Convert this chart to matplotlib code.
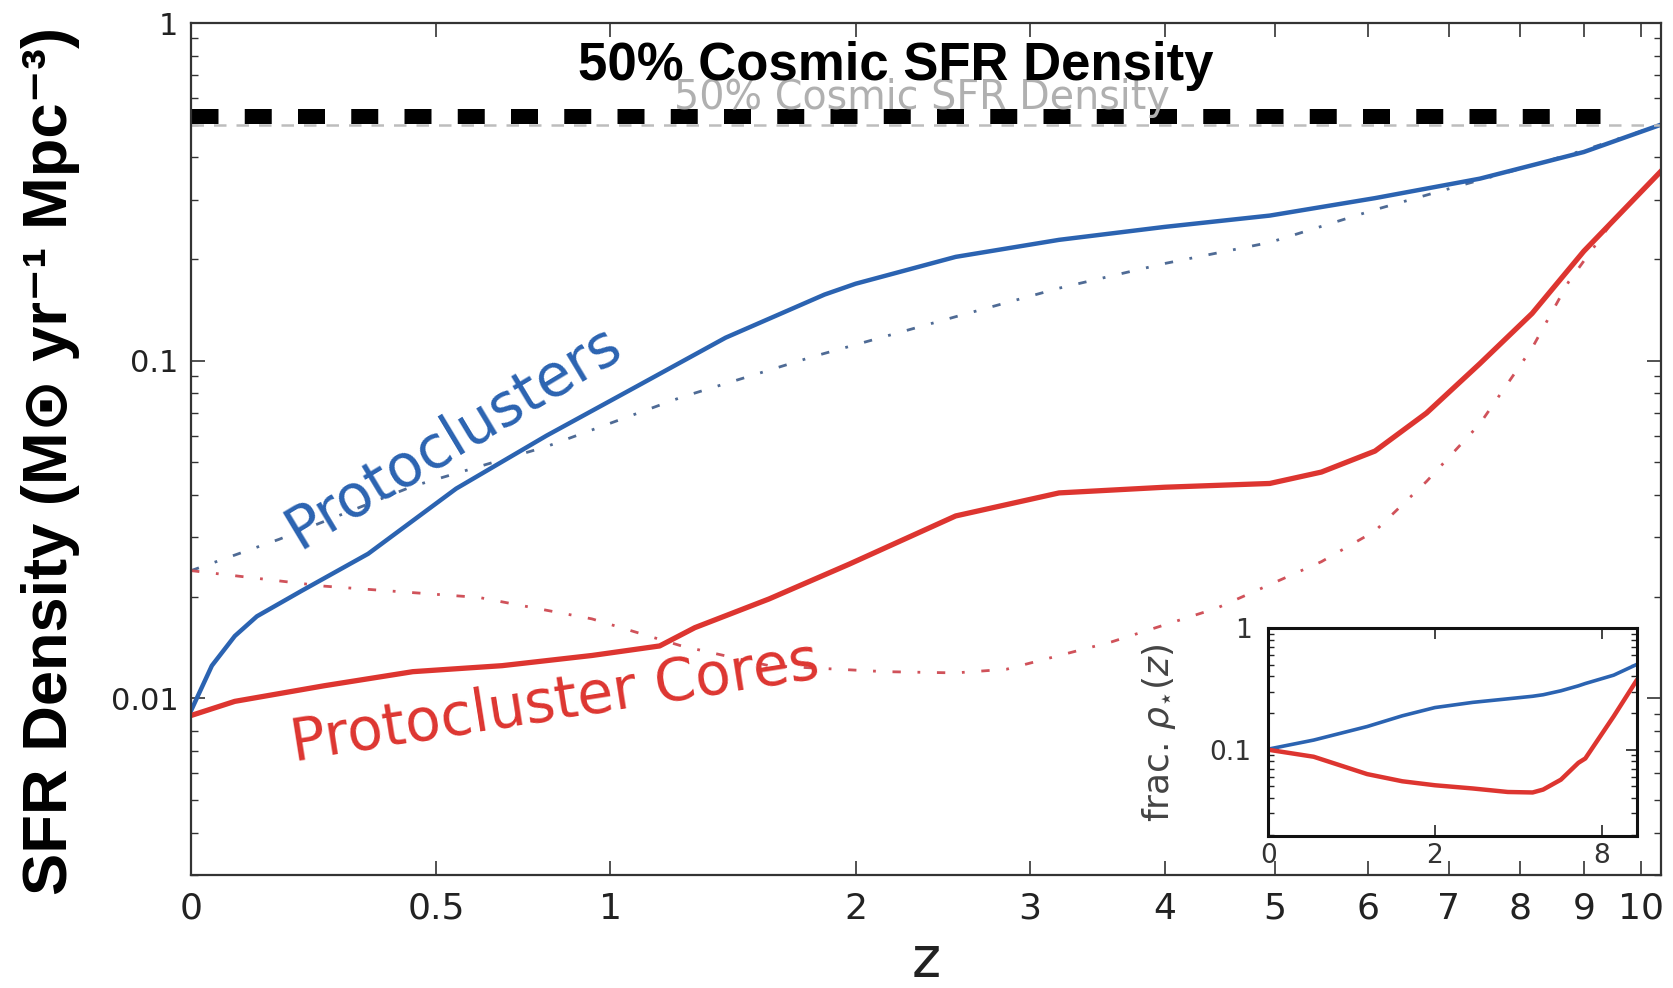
import numpy as np
import matplotlib.pyplot as plt
from matplotlib.ticker import FixedLocator, FixedFormatter, NullLocator, LogLocator, NullFormatter

# Protoclusters (total), solid
z_pc = [0, 0.035, 0.075, 0.115, 0.2, 0.34, 0.55, 0.8, 1.09, 1.42, 1.85, 2.0,
        2.54, 3.2, 4.0, 4.95, 6.08, 7.42, 9.0, 10.36]
sfr_pc = [0.0092, 0.0125, 0.0153, 0.0175, 0.0208, 0.0268, 0.0418, 0.06, 0.084,
          0.117, 0.157, 0.169, 0.203, 0.228, 0.249, 0.269, 0.303, 0.346, 0.415, 0.50]

# Protoclusters, dash-dot
z_pc_dd = [0, 0.157, 0.443, 0.8, 1.25, 1.8, 2.15, 2.54, 3.2, 4.0, 4.95, 6.08,
           7.0, 8.0, 9.0, 10.36]
sfr_pc_dd = [0.0239, 0.0296, 0.0425, 0.0557, 0.078, 0.103, 0.118, 0.135, 0.164,
             0.194, 0.224, 0.28, 0.323, 0.37, 0.42, 0.50]

# Protocluster cores, solid
z_core = [0, 0.075, 0.246, 0.443, 0.672, 0.94, 1.17, 1.30, 1.60, 1.97, 2.54,
          3.2, 4.0, 4.95, 5.48, 6.08, 6.71, 7.42, 8.18, 9.0, 10.36]
sfr_core = [0.0089, 0.0098, 0.0109, 0.012, 0.0125, 0.0134, 0.0143, 0.0162, 0.0197,
            0.025, 0.0347, 0.0406, 0.0422, 0.0433, 0.0468, 0.054, 0.070, 0.098,
            0.138, 0.211, 0.364]

# Protocluster cores, dash-dot
z_core_dd = [0, 0.246, 0.61, 0.94, 1.25, 1.60, 2.15, 2.54, 2.85, 3.58, 4.45,
             5.48, 6.08, 6.71, 7.42, 8.18, 8.75, 9.5, 10.36]
sfr_core_dd = [0.0239, 0.0215, 0.0199, 0.0172, 0.0143, 0.0125, 0.012, 0.0119,
               0.0122, 0.0147, 0.0185, 0.0254, 0.0313, 0.0439, 0.065, 0.109,
               0.171, 0.26, 0.364]

# inset: fraction of cosmic SFR density
z_frac = [0, 0.35, 0.92, 1.42, 2.0, 2.85, 3.85, 4.71, 5.12, 5.88, 6.72, 7.08,
          8.74, 10.3]
frac_pc = [0.101, 0.12, 0.155, 0.19, 0.222, 0.245, 0.262, 0.275, 0.283, 0.305,
           0.335, 0.35, 0.41, 0.50]
frac_core = [0.1, 0.0875, 0.063, 0.055, 0.051, 0.048, 0.0449, 0.0445, 0.047,
             0.0567, 0.078, 0.0847, 0.188, 0.367]

half_cosmic = 0.5      # original grey line
half_overlay = 0.531   # bold black overlay line
overlay_end = 9.27

x_ticks = [0, 0.5, 1, 2, 3, 4, 5, 6, 7, 8, 9, 10]
x_labels = ['0', '0.5', '1', '2', '3', '4', '5', '6', '7', '8', '9', '10']
y_ticks = [0.01, 0.1, 1]
y_labels = ['0.01', '0.1', '1']

blue = '#2b63b1'
red = '#dd3530'
blue_dd = '#4f6b95'
red_dd = '#d0525a'

fwd = lambda z: np.log1p(np.clip(z, -0.999, None))
inv = lambda u: np.expm1(u)

fig = plt.figure(figsize=(16.73, 9.88), dpi=100)
ax = fig.add_axes([0.1142, 0.1144, 0.8786, 0.8623])
ax.set_xscale('function', functions=(fwd, inv))
ax.set_yscale('log')
ax.set_xlim(0, 10.36)
ax.set_ylim(0.003, 1)

ax.plot(z_pc_dd, sfr_pc_dd, color=blue_dd, lw=2, dashes=(3, 6, 1, 6))
ax.plot(z_core_dd, sfr_core_dd, color=red_dd, lw=2, dashes=(3, 6, 1, 6))
ax.plot(z_pc, sfr_pc, color=blue, lw=3.2)
ax.plot(z_core, sfr_core, color=red, lw=3.8)

ax.axhline(half_cosmic, color='#bdbdbd', lw=1.8, dashes=(5, 4))
ax.text(2.35, 0.555, '50% Cosmic SFR Density', color='#b0b0b0', fontsize=28.5,
        ha='center', va='baseline')
ax.plot([0, overlay_end], [half_overlay, half_overlay], color='black', lw=10.8,
        dashes=(1.8, 1.75), solid_capstyle='butt')

ax.text(0.542, 0.0596, 'Protoclusters', color=blue, fontsize=42, rotation=31,
        ha='center', va='center', rotation_mode='anchor')
ax.text(0.825, 0.0097, 'Protocluster Cores', color=red, fontsize=42, rotation=9,
        ha='center', va='center', rotation_mode='anchor')

ax.xaxis.set_major_locator(FixedLocator(x_ticks))
ax.xaxis.set_major_formatter(FixedFormatter(x_labels))
ax.xaxis.set_minor_locator(NullLocator())
ax.yaxis.set_major_locator(FixedLocator(y_ticks))
ax.yaxis.set_major_formatter(FixedFormatter(y_labels))
ax.yaxis.set_minor_locator(LogLocator(base=10, subs=np.arange(2, 10)))
ax.yaxis.set_minor_formatter(NullFormatter())
ax.tick_params(which='both', direction='in', top=True, right=True, colors='#333333')
ax.tick_params(which='major', length=10, width=1.2)
ax.tick_params(which='minor', length=5, width=1)
ax.tick_params(axis='x', labelsize=26, pad=12, labelcolor='#222222')
ax.tick_params(axis='y', labelsize=22, pad=9, labelcolor='#222222')
for s in ax.spines.values():
    s.set_linewidth(1.6)
    s.set_color('#333333')

ax.set_xlabel('z', fontsize=40, labelpad=6, color='#222222')

fig.text(0.5356, 0.919, '50% Cosmic SFR Density', fontsize=38, fontweight='bold',
         family=['Liberation Sans', 'DejaVu Sans'], ha='center', va='baseline')
fig.text(0.030, 0.533, 'SFR Density (M\u2299 yr\u207b\u00b9 Mpc\u207b\u00b3)', fontsize=45.5,
         fontweight='bold', family=['Liberation Sans', 'DejaVu Sans'],
         rotation=90, ha='center', va='center')

# inset
ins = fig.add_axes([0.758, 0.1538, 0.2205, 0.2105])
ins.set_xscale('function', functions=(fwd, inv))
ins.set_yscale('log')
ins.set_xlim(0, 10.36)
ins.set_ylim(0.0195, 1)
ins.plot(z_frac, frac_pc, color=blue, lw=2.6)
ins.plot(z_frac, frac_core, color=red, lw=3.2)
ins.xaxis.set_major_locator(FixedLocator([0, 2, 8]))
ins.xaxis.set_major_formatter(FixedFormatter(['0', '2', '8']))
ins.xaxis.set_minor_locator(NullLocator())
ins.yaxis.set_major_locator(FixedLocator([0.1, 1]))
ins.yaxis.set_major_formatter(FixedFormatter(['0.1', '1']))
ins.yaxis.set_minor_locator(LogLocator(base=10, subs=np.arange(2, 10)))
ins.yaxis.set_minor_formatter(NullFormatter())
ins.tick_params(which='both', direction='in', top=True, right=True, colors='#222222')
ins.tick_params(which='major', length=8, width=1.2)
ins.tick_params(which='minor', length=4, width=1)
ins.tick_params(axis='x', labelsize=19, pad=5, labelcolor='#333333')
ins.tick_params(axis='y', labelsize=19, pad=12, labelcolor='#333333')
for s in ins.spines.values():
    s.set_linewidth(2.2)
    s.set_color('#111111')
fig.text(0.693, 0.258, r'frac. $\rho_{\star}(z)$', fontsize=26, color='#444444',
         rotation=90, ha='center', va='center')

fig.savefig('out.png', dpi=100)
